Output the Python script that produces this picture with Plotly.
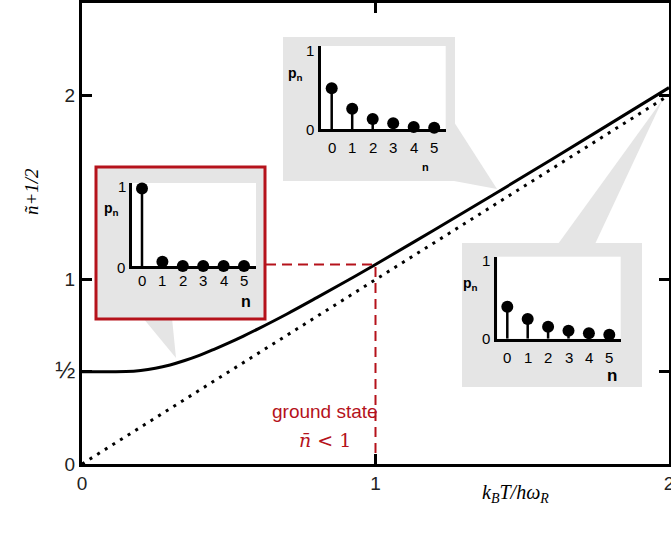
import plotly.graph_objects as go

# ---------------- data ----------------
temp_x = [0.0, 0.1, 0.15, 0.2, 0.25, 0.3, 0.35, 0.4, 0.45, 0.5, 0.55, 0.6, 0.7, 0.8, 0.9, 1.0, 1.2, 1.4, 1.6, 1.8, 2.0]
occ_y = [0.5, 0.5, 0.501, 0.507, 0.519, 0.537, 0.561, 0.589, 0.622, 0.657, 0.694, 0.733, 0.815, 0.902, 0.991, 1.082, 1.269, 1.459, 1.651, 1.846, 2.041]
classical_x = [0.0, 2.0]
classical_y = [0.0, 2.0]
marker_x = [1.0]
marker_y = [1.082]

n_vals = [0, 1, 2, 3, 4, 5]
pn_low = [0.98, 0.055, 0.0, 0.0, 0.0, 0.0]
pn_mid = [0.52, 0.26, 0.13, 0.076, 0.03, 0.02]
pn_high = [0.405, 0.25, 0.15, 0.10, 0.07, 0.05]

x_ticks = [0, 1, 2]
x_ticktext = ["0", "1", "2"]
y_ticks = [0, 0.5, 1, 2]
y_ticktext = ["0", "<span style='font-size:24px'>½</span>", "1", "2"]

# ---------------- layout helpers ----------------
W, H = 671, 534
L, R, T, B = 82, 669, 3, 464


def px(X):
    return (X - L) / (R - L)


def py(Y):
    return (B - Y) / (B - T)


RED = "#b5121b"
GRAY = "#e5e5e5"

fig = go.Figure()

fig.add_trace(go.Scatter(x=classical_x, y=classical_y, mode="lines",
                         line=dict(color="black", width=3, dash="3px,6px"),
                         hoverinfo="skip", showlegend=False))
fig.add_trace(go.Scatter(x=temp_x, y=occ_y, mode="lines", line_shape="spline",
                         line=dict(color="black", width=3),
                         hoverinfo="skip", showlegend=False))

# ---------------- insets ----------------
insets = [
    # (values, x-axis px start, end, n0 px, dx px, baseline px, top px)
    (pn_low, 131.5, 256, 142, 20.4, 266, 183),
    (pn_mid, 320.7, 445.7, 331.7, 20.5, 129.3, 46),
    (pn_high, 497.3, 620.7, 507.3, 20.4, 338.7, 256.7),
]
UNIT = 79.0
layout_axes = {}
for i, (vals, xa, xb, n0, dx, base, top) in enumerate(insets):
    k = i + 2
    xs, ys = [], []
    for n, p in zip(n_vals, vals):
        xs += [n, n, None]
        ys += [0, p, None]
    fig.add_trace(go.Scatter(x=xs, y=ys, mode="lines", line=dict(color="black", width=2.5),
                             xaxis=f"x{k}", yaxis=f"y{k}", hoverinfo="skip",
                             showlegend=False, cliponaxis=False))
    fig.add_trace(go.Scatter(x=n_vals, y=vals, mode="markers",
                             marker=dict(color="black", size=12),
                             xaxis=f"x{k}", yaxis=f"y{k}", hoverinfo="skip",
                             showlegend=False, cliponaxis=False))
    layout_axes[f"xaxis{k}"] = dict(domain=[px(xa), px(xb)], anchor=f"y{k}",
                                    range=[(xa - n0) / dx, (xb - n0) / dx],
                                    showline=True, linecolor="black", linewidth=3,
                                    showgrid=False, zeroline=False, showticklabels=False,
                                    ticks="", fixedrange=True, automargin=False)
    layout_axes[f"yaxis{k}"] = dict(domain=[py(base), py(top)], anchor=f"x{k}",
                                    range=[0, (base - top) / UNIT],
                                    showline=True, linecolor="black", linewidth=3,
                                    showgrid=False, zeroline=False, showticklabels=False,
                                    ticks="", fixedrange=True, automargin=False)

# ---------------- shapes ----------------
shapes = []


def poly(points, fill):
    d = "M " + " L ".join(f"{px(a)},{py(b)}" for a, b in points) + " Z"
    return dict(type="path", path=d, xref="paper", yref="paper",
                fillcolor=fill, line=dict(width=0), layer="below")


# callout triangles
shapes.append(poly([(143, 318), (172, 318), (176, 358)], GRAY))
shapes.append(poly([(454, 122), (454, 181), (497, 189)], GRAY))
shapes.append(poly([(558, 244), (595, 244), (663, 99)], GRAY))
# gray boxes
shapes.append(dict(type="rect", xref="paper", yref="paper", x0=px(283), x1=px(455),
                   y0=py(181), y1=py(37), fillcolor=GRAY, line=dict(width=0), layer="below"))
shapes.append(dict(type="rect", xref="paper", yref="paper", x0=px(462), x1=px(642),
                   y0=py(387), y1=py(243), fillcolor=GRAY, line=dict(width=0), layer="below"))
shapes.append(dict(type="rect", xref="paper", yref="paper", x0=px(96), x1=px(265),
                   y0=py(319), y1=py(167), fillcolor=GRAY, line=dict(width=3, color=RED),
                   layer="below"))

# red dashed guide lines
fig.add_trace(go.Scatter(x=[(266 - L) / (R - L) * 2, marker_x[0], marker_x[0]],
                         y=[marker_y[0], marker_y[0], 0], mode="lines",
                         line=dict(color=RED, width=2, dash="10px,6px"),
                         hoverinfo="skip", showlegend=False))

# ---------------- annotations ----------------
ann = []


def text(X, Y, s, size=15, color="black", family="Liberation Sans, Arial, sans-serif",
         angle=0, xanchor="center"):
    ann.append(dict(x=px(X), y=py(Y), xref="paper", yref="paper", text=s,
                    showarrow=False, font=dict(size=size, color=color, family=family),
                    textangle=angle, xanchor=xanchor, yanchor="middle"))


label_spec = [
    # p_n pos, "1" pos, "0" pos, numbers y, n pos, n size
    ((111.7, 209), (121.5, 186), (121, 267), 280, (245.7, 301), 16),
    ((295, 74), (310, 50.7), (310, 129), 148, (425, 167), 11),
    ((470, 284), (486, 260), (486, 339), 357, (611.7, 375), 17),
]
for (vals, xa, xb, n0, dx, base, top), (pp, p1, p0, ny, npos, nsize) in zip(insets, label_spec):
    text(pp[0], pp[1], "<b>p</b><sub><b>n</b></sub>", size=14)
    text(p1[0], p1[1], "1", size=15)
    text(p0[0], p0[1], "0", size=15)
    for n in n_vals:
        text(n0 + n * dx, ny, str(n), size=15)
    text(npos[0], npos[1], "<b>n</b>", size=nsize)

text(325, 411, "ground state", size=19, color=RED)
text(325, 440, "<i>n̄</i> &lt; 1", size=19, color=RED, family="DejaVu Serif, serif")
text(31, 192, "<i>ñ+1/2</i>", size=19, family="Liberation Serif, Times New Roman, serif", angle=-90)
text(515, 493, "<i>k<sub>B</sub>T/hω<sub>R</sub></i>", size=20,
     family="Liberation Serif, Times New Roman, serif")

axis_common = dict(showline=True, linecolor="black", linewidth=3, mirror="allticks",
                   ticks="inside", ticklen=10, tickwidth=3, tickcolor="black",
                   showgrid=False, zeroline=False, automargin=False,
                   tickfont=dict(size=19, color="#222", family="Liberation Sans, Arial, sans-serif"))

fig.update_layout(
    width=W, height=H,
    margin=dict(l=L, r=W - R, t=T, b=H - B, pad=0, autoexpand=False),
    paper_bgcolor="white", plot_bgcolor="white",
    showlegend=False,
    xaxis=dict(range=[0, 2], tickvals=x_ticks, ticktext=x_ticktext,
               ticklabeloverflow="allow", **axis_common),
    yaxis=dict(range=[0, 2.5], tickvals=y_ticks, ticktext=y_ticktext, **axis_common),
    shapes=shapes,
    annotations=ann,
    **layout_axes,
)

fig.write_html("out.html", config={"displayModeBar": False},
               post_script="document.body.style.margin='0px';document.body.style.overflow='hidden';")
